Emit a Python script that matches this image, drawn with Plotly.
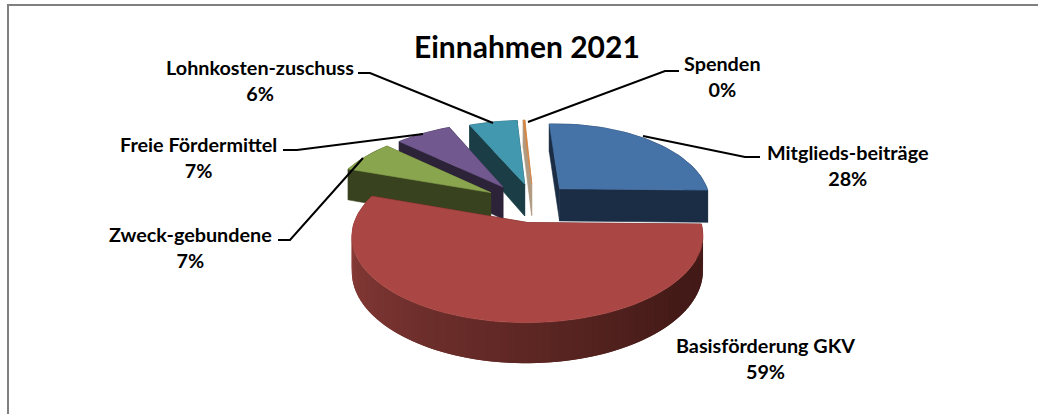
import math
import plotly.graph_objects as go

# Income shares for 2021, in percent
categories = ["Mitglieds-beiträge", "Basisförderung GKV", "Zweck-gebundene",
              "Freie Fördermittel", "Lohnkosten-zuschuss", "Spenden"]
values = [28, 59, 7, 7, 6, 0.2]
top_colors = ["#4572A7", "#AA4643", "#89A54E", "#71588F", "#4198AF", "#DB843D"]
wall_colors = ["#1B2D45", "#4A1C1A", "#38421F", "#2D2339", "#1A3D46", "#B09A82"]

# Per-slice layout of the exploded pie: horizontal nudge and width factor
slice_shift = [2, 5, -5, -4, 4, 4]
slice_width = [0.93, 1.025, 1.0, 1.0, 1.0, 1.0]

# Oblique projection of the pie onto the page
CENTER_X, CENTER_Y = 530, 202.5
SCALE_X, SCALE_Y = 163, 78.4
PERSPECTIVE = 0.15
DEPTH = 33
EXPLODE = 0.25
START_ANGLE = -3


def project(u, v, drop=0.0, shift=0.0):
    w = 1 - PERSPECTIVE * v
    return CENTER_X + shift + SCALE_X * u / w, CENTER_Y + (SCALE_Y * v + drop) / w


def polar(angle, offset, width=1.0):
    a = math.radians(angle)
    return offset[0] + width * math.sin(a), offset[1] - math.cos(a)


def add_poly(fig, pts, color, edge=0.6):
    xs = [p[0] for p in pts] + [pts[0][0]]
    ys = [p[1] for p in pts] + [pts[0][1]]
    fig.add_trace(go.Scatter(x=xs, y=ys, mode="lines", fill="toself",
                             fillcolor=color, line=dict(color=color, width=edge),
                             hoverinfo="skip", showlegend=False))


def mix(c1, c2, t):
    a = [int(c1[i:i + 2], 16) for i in (1, 3, 5)]
    b = [int(c2[i:i + 2], 16) for i in (1, 3, 5)]
    return "rgb({},{},{})".format(*[round(x + (y - x) * t) for x, y in zip(a, b)])


fig = go.Figure()

# Slice angles from the values
total = sum(values)
spans = []
angle = START_ANGLE
for val in values:
    spans.append((angle, angle + val / total * 360))
    angle = spans[-1][1]

# Painter's order: back slices first, the large front slice last
for idx in [5, 4, 3, 2, 0, 1]:
    a0, a1 = spans[idx]
    mid = (a0 + a1) / 2
    off = polar(mid, (0, 0))
    off = (EXPLODE * off[0], EXPLODE * off[1])
    steps = max(2, int((a1 - a0) / 2))
    arc = [a0 + (a1 - a0) * i / steps for i in range(steps + 1)]
    sx = slice_shift[idx]
    wd = slice_width[idx]

    # outer wall; the large slice carries a left-to-right gradient, drawn
    # from the right so each strip overlaps the next and leaves no seams
    if idx == 1:
        for i in range(steps - 1):
            a, b = arc[i], arc[i + 2]
            t = min(1, max(0, ((a + b) / 2 - 130) / 140))
            color = mix("#431A17", "#8C3D3A", t)
            p, q = polar(a, off, wd), polar(b, off, wd)
            add_poly(fig, [project(*p, 0, sx), project(*q, 0, sx),
                           project(*q, DEPTH, sx), project(*p, DEPTH, sx)], color, edge=0)
    else:
        wall = [project(*polar(a, off, wd), 0, sx) for a in arc] + \
               [project(*polar(a, off, wd), DEPTH, sx) for a in reversed(arc)]
        add_poly(fig, wall, wall_colors[idx])

    # radial walls
    for edge_angle in (a0, a1):
        p = polar(edge_angle, off, wd)
        add_poly(fig, [project(*off, 0, sx), project(*p, 0, sx),
                       project(*p, DEPTH, sx), project(*off, DEPTH, sx)], wall_colors[idx])

    # top face
    top = [project(*off, 0, sx)] + [project(*polar(a, off, wd), 0, sx) for a in arc]
    add_poly(fig, top, top_colors[idx])

# Leader lines from the slices to their labels
leaders = [
    ([643, 745, 760], [136, 157, 157]),
    ([528, 665, 679], [122, 71, 71]),
    ([493, 370, 358], [123, 73, 73]),
    ([423, 297, 283], [134, 150, 150]),
    ([363, 290, 278], [158, 240, 240]),
]
for lx, ly in leaders:
    fig.add_trace(go.Scatter(x=lx, y=ly, mode="lines", line=dict(color="black", width=2),
                             hoverinfo="skip", showlegend=False))

label_pos = [(847, 165), (765, 358), (190, 247), (198, 157), (260, 80), (722, 76)]
for name, val, (lx, ly) in zip(categories, values, label_pos):
    fig.add_annotation(x=lx, y=ly, xref="x", yref="y", showarrow=False,
                       text=f"{name}<br>{val:.0f}%", align="center",
                       font=dict(family="Lato", size=19.8, color="black", weight="bold"))

fig.add_annotation(x=527, y=46, xref="x", yref="y", showarrow=False, text="Einnahmen 2021",
                   font=dict(family="Lato", size=30, color="black", weight="bold"))

# Chart frame: only the top and left edges show
fig.add_trace(go.Scatter(x=[8, 8, 1038], y=[414, 5, 5], mode="lines",
                         line=dict(color="#808080", width=2), hoverinfo="skip", showlegend=False))

fig.update_layout(
    width=1038, height=414, margin=dict(l=0, r=0, t=0, b=0),
    paper_bgcolor="white", plot_bgcolor="white",
    xaxis=dict(range=[0, 1038], visible=False, fixedrange=True),
    yaxis=dict(range=[414, 0], visible=False, fixedrange=True),
)
fig.write_html("out.html")
